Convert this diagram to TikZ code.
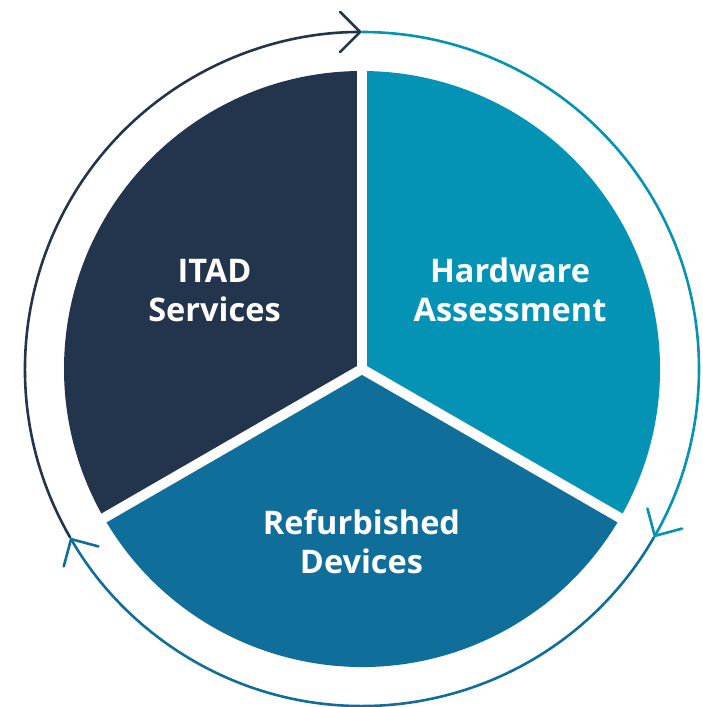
\documentclass[tikz,border=0pt]{standalone}
\usepackage{fontspec}
\setmainfont{Open Sans}
\usetikzlibrary{arrows.meta,calc}
\definecolor{navy}{HTML}{23354D}
\definecolor{teal}{HTML}{0593B5}
\definecolor{midblue}{HTML}{106F9A}
\tikzset{
  ring/.style={line width=2.6pt, line cap=round,
    -{Straight Barb[length=20pt,width=40pt,line cap=round,line join=miter]}},
  gap/.style={white, line width=10pt},
  label/.style={text=white, font=\fontsize{32.5}{39}\selectfont\bfseries, align=center, inner sep=0pt}
}
\begin{document}
\begin{tikzpicture}[x=1pt,y=1pt]
\useasboundingbox (0,0) rectangle (702,707);
\coordinate (c) at (362,338);
% sectors
\fill[navy] (c) -- ++(90:298) arc[start angle=90, end angle=210, radius=298] -- cycle;
\fill[teal] (c) -- ++(-30:298) arc[start angle=-30, end angle=90, radius=298] -- cycle;
\fill[midblue] (c) -- ++(210:298) arc[start angle=210, end angle=330, radius=298] -- cycle;
% gaps
\coordinate (g1) at ($(c)+(90:310)$);
\coordinate (g2) at ($(c)+(210:310)$);
\coordinate (g3) at ($(c)+(-30:310)$);
\draw[gap] (c) -- (g1);
\draw[gap] (c) -- (g2);
\draw[gap] (c) -- (g3);
% ring arcs
\coordinate (a1) at ($(c)+(210:337)$);
\coordinate (a2) at ($(c)+(90:337)$);
\coordinate (a3) at ($(c)+(-30:337)$);
\draw[ring, navy] (a1) arc[start angle=210, end angle=90, radius=337];
\draw[ring, teal] (a2) arc[start angle=90, end angle=-30, radius=337];
\draw[ring, midblue] (a3) arc[start angle=-30, end angle=-150, radius=337];
% labels
\node[label] (itad) at (214.5,416.5) {ITAD\\Services};
\node[label] (hw) at (510,417) {Hardware\\Assessment};
\node[label] (rd) at (361.5,165) {Refurbished\\Devices};
\end{tikzpicture}
\end{document}
